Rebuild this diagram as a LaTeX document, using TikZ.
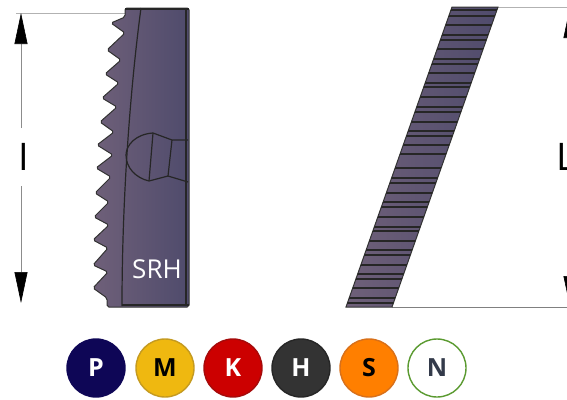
\documentclass[tikz,border=0pt]{standalone}
\usepackage{fontspec}
\setmainfont{Open Sans}
\usetikzlibrary{arrows.meta}
\definecolor{bodyL}{HTML}{6F6079}
\definecolor{bodyR}{HTML}{4F4B6C}
\begin{document}
\begin{tikzpicture}[x=1pt, y=-1pt,
	body/.style={left color=bodyL, right color=bodyR, draw=black!80, line width=1pt},
	edgeline/.style={black!85, line width=1.2pt},
	guide/.style={black!30, line width=0.9pt},
	dimline/.style={-{Triangle[length=31pt, width=13pt, color=black]}, black!45, line width=0.6pt},
	dimlabel/.style={minimum height=58pt, inner sep=0pt, outer sep=0pt, font=\fontsize{38}{38}\selectfont},
	grade/.style={circle, minimum size=58pt, inner sep=0pt, line width=1.4pt, font=\fontsize{25}{25}\selectfont\bfseries}]
	\useasboundingbox (0,0) rectangle (567,399);
	\clip (0,0) rectangle (567,399);
	% extension lines
	\coordinate (topI) at (21,13);
	\coordinate (botI) at (21,303);
	\coordinate (topL) at (570,7);
	\coordinate (botL) at (570,307);
	\coordinate (insertT) at (125,13);
	\coordinate (stripT) at (498,7);
	\coordinate (stripB) at (392,307);
	\draw[guide] (16,13) -- (insertT);
	\draw[guide] (stripT) -- (567,7);
	\draw[guide, black!50] (stripB) -- (567,307);
	% insert with serration
	\draw[body, rounded corners=1.8pt] (125,8) -- (189,8) -- (189,307) -- (107,307) -- (107,298)
		-- (93,288) -- (108,272) -- (93,265) -- (108,248) -- (93,240) -- (109,225) -- (94,217)
		-- (109,202) -- (95,193) -- (111,177) -- (96,168) -- (113,155) -- (97,145) -- (114,132)
		-- (100,122) -- (117,107) -- (102,98) -- (119,83) -- (105,74) -- (121,60) -- (107,50)
		-- (125,33) -- (111,23) -- (125,17) -- cycle;
	\draw[edgeline] (141,8) .. controls (130,90) and (122,200) .. (122,306);
	\draw[edgeline] (125,9) -- (189,9);
	\draw[edgeline] (186,9) -- (186,306);
	\draw[edgeline] (122,305) -- (189,305);
	% ball seat
	\draw[edgeline] (153,133) .. controls (136,134) and (126,145) .. (126,155)
		.. controls (126,168) and (136,178) .. (149,181) -- (168,176) -- (188,182);
	\draw[edgeline] (153,133) -- (172,140) -- (188,140);
	\draw[edgeline] (153,133) -- (149,181);
	\draw[edgeline] (172,140) -- (168,176);
	\node[white, inner sep=0pt, font=\fontsize{26}{26}\selectfont] (srh) at (157,269) {SRH};
	% side strip
	\draw[body] (452,7) -- (498,7) -- (392,307) -- (346,307) -- cycle;
	\begin{scope}
		\clip (452,7) -- (498,7) -- (392,307) -- (346,307) -- cycle;
		\foreach \ypos in {10,16,25,35,40,49,59,64,73,83,87,97,107,112,122,131,136,145,154,168,178,183,193,202,207,217,227,231,241,250,255,265,274,279,288,298,303}
			\draw[edgeline] (340,\ypos) -- (500,\ypos);
	\end{scope}
	% dimensions
	\node[dimlabel] (dimI) at (24,157) {I};
	\node[dimlabel] (dimL) at (566,157) {L};
	\draw[dimline] (topI |- dimI.north) -- (topI);
	\draw[dimline] (botI |- dimI.south) -- (botI);
	\draw[dimline] (topL |- dimL.north) -- (topL);
	\draw[dimline] (botL |- dimL.south) -- (botL);
	% grades
	\definecolor{gradeP}{HTML}{0E0656}
	\definecolor{gradeM}{HTML}{EFB810}
	\definecolor{gradeMb}{HTML}{C49A20}
	\definecolor{gradeK}{HTML}{CC0000}
	\definecolor{gradeKb}{HTML}{A50A0A}
	\definecolor{gradeH}{HTML}{333333}
	\definecolor{gradeHb}{HTML}{262626}
	\definecolor{gradeS}{HTML}{FF7F00}
	\definecolor{gradeSb}{HTML}{D8701A}
	\definecolor{gradeN}{HTML}{5A9A30}
	\definecolor{gradeNt}{HTML}{333A4A}
	\node[grade, fill=gradeP, draw=gradeP, text=white] (P) at (96,368) {P};
	\node[grade, fill=gradeM, draw=gradeMb, text=black] (M) at (165,368) {M};
	\node[grade, fill=gradeK, draw=gradeKb, text=white] (K) at (233,368) {K};
	\node[grade, fill=gradeH, draw=gradeHb, text=white] (H) at (301,368) {H};
	\node[grade, fill=gradeS, draw=gradeSb, text=black] (S) at (369,368) {S};
	\node[grade, fill=white, draw=gradeN, text=gradeNt] (N) at (437,368) {N};
\end{tikzpicture}
\end{document}
